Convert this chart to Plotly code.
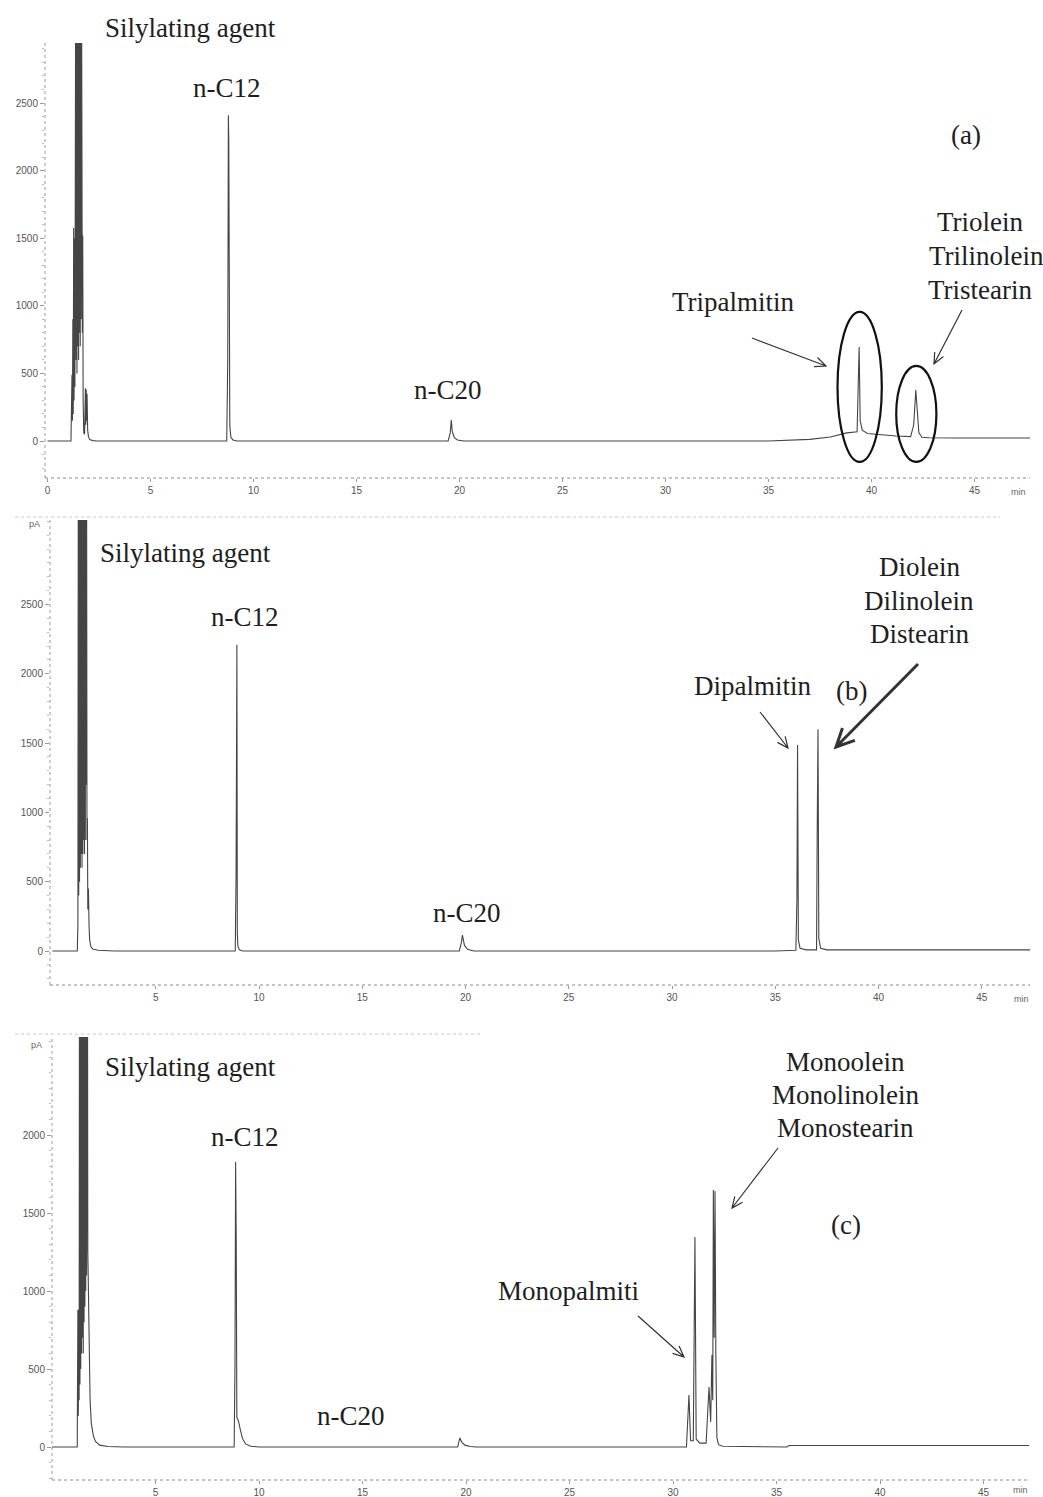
import math
import plotly.graph_objects as go

W, H = 1043, 1497

# ---------------- chromatogram data (retention time in min, signal in pA) ----------------
# (a) triglyceride standard
A_TIME = [0.0, 1.14, 1.17, 1.19, 1.21, 1.23, 1.25, 1.27, 1.29, 1.31, 1.33, 1.35,
          1.37, 1.39, 1.41, 1.43, 1.45, 1.47, 1.49, 1.51, 1.53, 1.55, 1.57, 1.59,
          1.61, 1.63, 1.65, 1.67, 1.69, 1.71, 1.73, 1.76, 1.80, 1.84, 1.86, 1.88,
          1.90, 1.92, 1.95, 1.99, 2.05, 2.20, 2.40,
          8.70, 8.75, 8.78, 8.80, 8.82, 8.85, 8.90, 9.00, 9.20,
          19.45, 19.55, 19.60, 19.65, 19.75, 19.90, 20.20,
          35.0, 36.0, 37.0, 38.0, 38.8, 39.30, 39.35, 39.40, 39.45, 39.55, 39.8, 40.5,
          41.2, 41.9, 42.05, 42.15, 42.22, 42.30, 42.45, 42.8, 44.0, 45.5, 47.7]
A_SIGNAL = [0, 0, 300, 490, 150, 900, 200, 1575, 300, 1500, 400, 1580,
            3600, 600, 3600, 500, 3600, 700, 3600, 600, 3600, 800, 3600, 700,
            3600, 900, 3600, 2265, 800, 1520, 300, 60, 50, 390, 120, 380,
            150, 350, 80, 30, 10, 3, 0,
            0, 600, 2410, 2220, 1400, 110, 30, 8, 0,
            0, 60, 155, 70, 25, 8, 0,
            0, 5, 12, 30, 60, 68, 400, 695, 150, 80, 55, 45,
            37, 32, 120, 377, 200, 60, 28, 24, 22, 22, 22]

# (b) diglyceride standard
B_TIME = [0.0, 1.20, 1.23, 1.25, 1.27, 1.29, 1.31, 1.33, 1.35, 1.37, 1.39, 1.41,
          1.43, 1.45, 1.47, 1.49, 1.51, 1.53, 1.55, 1.57, 1.59, 1.61, 1.63, 1.65,
          1.67, 1.69, 1.71, 1.74, 1.77, 1.80, 1.86, 1.95, 2.20, 3.00,
          8.85, 8.89, 8.91, 8.93, 8.95, 8.98, 9.05, 9.20,
          19.70, 19.80, 19.85, 19.95, 20.10, 20.40,
          35.0, 36.00, 36.05, 36.08, 36.12, 36.20, 36.50, 37.00, 37.03, 37.07, 37.11,
          37.20, 37.50, 47.4]
B_SIGNAL = [0, 0, 190, 3600, 400, 3600, 500, 3600, 600, 3600, 700, 3600,
            600, 3600, 700, 3600, 800, 3600, 700, 3600, 800, 3600, 1200, 3600,
            800, 960, 300, 450, 180, 80, 30, 15, 5, 0,
            0, 560, 1350, 2210, 120, 35, 8, 0,
            0, 60, 115, 40, 12, 0,
            0, 5, 380, 1486, 80, 20, 8, 8, 822, 1600, 90,
            20, 8, 8]

# (c) monoglyceride standard
C_TIME = [0.0, 1.22, 1.25, 1.27, 1.29, 1.31, 1.33, 1.35, 1.37, 1.39, 1.41, 1.43,
          1.45, 1.47, 1.49, 1.51, 1.53, 1.55, 1.57, 1.59, 1.61, 1.63, 1.65, 1.67,
          1.69, 1.71, 1.73, 1.75, 1.77, 1.80, 1.84, 1.90, 2.00, 2.10, 2.30, 2.70, 3.50,
          8.80, 8.84, 8.87, 8.90, 8.93, 9.00, 9.10, 9.20, 9.35, 9.60, 10.0,
          19.60, 19.70, 19.80, 19.95, 20.20, 20.50,
          30.65, 30.77, 30.85, 30.98, 31.06, 31.12, 31.30, 31.60, 31.74, 31.82, 31.88,
          31.92, 31.95, 31.99, 32.03, 32.07, 32.12, 32.20, 32.40, 35.5, 35.6, 47.2]
C_SIGNAL = [0, 0, 880, 200, 880, 300, 3600, 400, 3600, 500, 3600, 600,
            3600, 700, 3600, 600, 3600, 800, 3600, 900, 3600, 1000, 3600, 1100,
            3600, 3600, 1260, 1120, 800, 650, 300, 150, 70, 35, 12, 3, 0,
            0, 530, 1827, 1330, 190, 170, 110, 55, 20, 5, 0,
            0, 58, 30, 12, 3, 0,
            0, 333, 40, 40, 1346, 50, 25, 25, 385, 160, 590,
            300, 1647, 700, 1640, 590, 60, 15, 5, 0, 10, 10]

X_TICKS_A = [0, 5, 10, 15, 20, 25, 30, 35, 40, 45]
X_TICKS_BC = [5, 10, 15, 20, 25, 30, 35, 40, 45]
Y_TICKS_AB = [0, 500, 1000, 1500, 2000, 2500]
Y_TICKS_C = [0, 500, 1000, 1500, 2000]


def paper(px, py):
    return px / W, 1 - py / H


# panel geometry in page pixels: (left, right, top, bottom), axis ranges
panels = [
    dict(key="", time=A_TIME, sig=A_SIGNAL, box=(45, 1030, 43, 478),
         xr=[(45 - 47.5) / 20.6, (1030 - 47.5) / 20.6],
         yr=[(441 - 478) / 0.1352, (441 - 43) / 0.1352],
         xt=X_TICKS_A, yt=Y_TICKS_AB),
    dict(key="2", time=B_TIME, sig=B_SIGNAL, box=(50, 1030, 520, 985),
         xr=[(50 - 52.5) / 20.65, (1030 - 52.5) / 20.65],
         yr=[(951 - 985) / 0.1386, (951 - 520) / 0.1386],
         xt=X_TICKS_BC, yt=Y_TICKS_AB),
    dict(key="3", time=C_TIME, sig=C_SIGNAL, box=(52, 1030, 1037, 1480),
         xr=[0.0, (1030 - 52) / 20.7],
         yr=[(1447 - 1480) / 0.156, (1447 - 1037) / 0.156],
         xt=X_TICKS_BC, yt=Y_TICKS_C),
]

fig = go.Figure()
tick_font = dict(family="Liberation Sans", size=10, color="#555")
shapes = []

for p in panels:
    k = p["key"]
    fig.add_trace(go.Scatter(x=p["time"], y=p["sig"], mode="lines",
                             line=dict(color="#454545", width=1.1),
                             xaxis="x" + k, yaxis="y" + k, showlegend=False,
                             hoverinfo="skip"))
    l, r, t, b = p["box"]
    fig.layout["xaxis" + k] = dict(
        domain=[l / W, r / W], range=p["xr"], anchor="y" + k,
        tickvals=p["xt"], ticks="outside", ticklen=3, tickcolor="#999",
        tickfont=tick_font, showgrid=False, zeroline=False, showline=False,
        fixedrange=True)
    fig.layout["yaxis" + k] = dict(
        domain=[1 - b / H, 1 - t / H], range=p["yr"], anchor="x" + k,
        tickvals=p["yt"], ticks="outside", ticklen=4, tickcolor="#999",
        tickfont=tick_font, showgrid=False, zeroline=False, showline=False,
        minor=dict(dtick=100, ticks="outside", ticklen=2, tickcolor="#bbb"),
        fixedrange=True)
    xd, yd = "x" + k + " domain", "y" + k + " domain"
    # dotted axis lines
    shapes.append(dict(type="line", xref=xd, yref=yd, x0=0, x1=1, y0=0, y1=0,
                       line=dict(color="#8a8a8a", width=1, dash="dot")))
    shapes.append(dict(type="line", xref=xd, yref=yd, x0=0, x1=0, y0=0, y1=1,
                       line=dict(color="#9a9a9a", width=1, dash="dot")))

# faint frame lines at the top of the lower two panels
for x_end, y_px in ((1000, 517), (480, 1034)):
    shapes.append(dict(type="line", xref="paper", yref="paper",
                       x0=15 / W, x1=x_end / W, y0=1 - y_px / H, y1=1 - y_px / H,
                       line=dict(color="#c8c8c8", width=1, dash="dot")))

# circled triglyceride peaks in (a)
shapes.append(dict(type="circle", xref="x", yref="y", x0=38.35, x1=40.5,
                   y0=-155, y1=955, line=dict(color="#111", width=2.2)))
shapes.append(dict(type="circle", xref="x", yref="y", x0=41.2, x1=43.15,
                   y0=-155, y1=555, line=dict(color="#111", width=2.2)))


def arrow(x0, y0, x1, y1, width=1.2, head=12, spread=0.42):
    ang = math.atan2(y1 - y0, x1 - x0)
    h1 = (x1 - head * math.cos(ang - spread), y1 - head * math.sin(ang - spread))
    h2 = (x1 - head * math.cos(ang + spread), y1 - head * math.sin(ang + spread))
    pts = [paper(x0, y0), paper(x1, y1), paper(*h1), paper(x1, y1), paper(*h2)]
    path = ("M {0[0]:.5f} {0[1]:.5f} L {1[0]:.5f} {1[1]:.5f} "
            "M {2[0]:.5f} {2[1]:.5f} L {3[0]:.5f} {3[1]:.5f} L {4[0]:.5f} {4[1]:.5f}"
            ).format(*pts)
    shapes.append(dict(type="path", xref="paper", yref="paper", path=path,
                       line=dict(color="#333", width=width)))


arrow(752, 338, 826, 366)
arrow(962, 310, 934, 364)
arrow(760, 712, 788, 748)
arrow(918, 664, 836, 747, width=3, head=20, spread=0.45)
arrow(638, 1316, 684, 1357)
arrow(778, 1148, 732, 1208)

fig.update_layout(shapes=shapes)

labels = [
    ("Silylating agent", 190, 28), ("n-C12", 227, 88), ("n-C20", 448, 390),
    ("(a)", 966, 135), ("Tripalmitin", 733, 302),
    ("Triolein", 980, 222), ("Trilinolein", 986, 256), ("Tristearin", 980, 290),
    ("Silylating agent", 185, 553), ("n-C12", 245, 617), ("n-C20", 467, 913),
    ("Dipalmitin", 752, 686), ("(b)", 851, 691),
    ("Diolein", 919, 567), ("Dilinolein", 919, 601), ("Distearin", 919, 634),
    ("Silylating agent", 190, 1067), ("n-C12", 245, 1137), ("n-C20", 351, 1416),
    ("Monopalmiti", 568, 1291), ("(c)", 846, 1225),
    ("Monoolein", 845, 1062), ("Monolinolein", 845, 1095), ("Monostearin", 845, 1128),
]
annotations = []
for text, px, py in labels:
    x, y = paper(px, py)
    annotations.append(dict(text=text, x=x, y=y, xref="paper", yref="paper",
                            xanchor="center", yanchor="middle", showarrow=False,
                            font=dict(family="Liberation Serif", size=27, color="#1e1e1e")))

small = [("min", 1018, 492), ("pA", 34, 524), ("min", 1021, 999), ("pA", 36, 1045),
         ("min", 1020, 1490)]
for text, px, py in small:
    x, y = paper(px, py)
    annotations.append(dict(text=text, x=x, y=y, xref="paper", yref="paper",
                            xanchor="center", yanchor="middle", showarrow=False,
                            font=dict(family="Liberation Sans", size=9, color="#666")))

fig.update_layout(
    annotations=annotations,
    width=W, height=H, autosize=False,
    margin=dict(l=0, r=0, t=0, b=0),
    paper_bgcolor="white", plot_bgcolor="white",
)

fig.write_html("out.html")
